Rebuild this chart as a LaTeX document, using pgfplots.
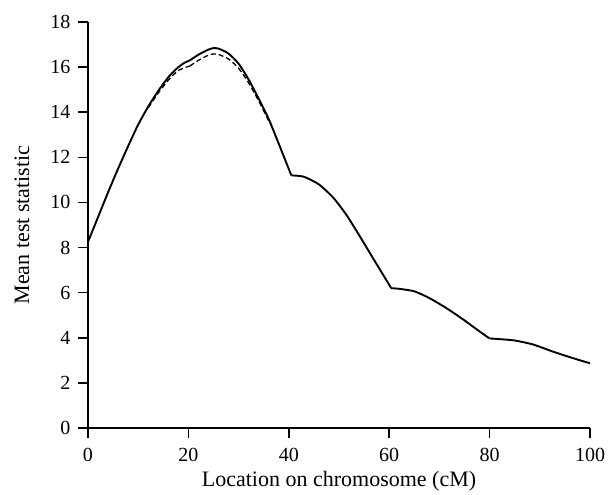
\documentclass[border=0pt]{standalone}
\usepackage{fontspec}
\setmainfont{Liberation Serif}
\usepackage{pgfplots}
\pgfplotsset{compat=1.18}

\begin{document}
\begin{tikzpicture}
\begin{axis}[
    scale only axis,
    width=502pt,
    height=406pt,
    xmin=0, xmax=100,
    ymin=0, ymax=18,
    axis x line*=bottom,
    axis y line*=left,
    axis line style={black, line width=1.4pt, -},
    xtick={0,20,...,100},
    ytick={0,2,...,18},
    tick align=outside,
    major tick length=10pt,
    every tick/.append style={black, line width=1.5pt},
    /pgf/number format/assume math mode=true,
    tick label style={font=\fontsize{20}{22}\selectfont},
    xticklabel style={yshift=-7pt},
    yticklabel style={xshift=-4pt},
    xlabel={Location on chromosome (cM)},
    ylabel={Mean test statistic},
    label style={font=\fontsize{22}{24}\selectfont},
    xlabel style={anchor=center, at={(axis description cs:0.5,-0.13)}},
    ylabel style={anchor=center, at={(axis description cs:-0.1315,0.5)}},
    clip=false,
]
% solid curve, drawn piecewise between the kinks
\addplot[black, line width=1.9pt, smooth, tension=0.4] coordinates {
    (0,8.25) (2,9.35) (4,10.45) (6,11.5) (8,12.5) (10,13.45) (12,14.25)
    (14,14.95) (16,15.55) (18,16.0) (19.3,16.2) (20.3,16.3)
};
\addplot[black, line width=1.9pt, smooth, tension=0.4] coordinates {
    (20.3,16.3) (22,16.55) (24,16.78) (25,16.84) (26,16.82) (28,16.6)
    (30,16.15) (32,15.45) (34,14.6) (36,13.7) (38,12.6) (40.5,11.2)
};
\addplot[black, line width=1.9pt, smooth, tension=0.4] coordinates {
    (40.5,11.2) (43,11.14) (46,10.8) (48.9,10.2) (51.5,9.44) (54.2,8.48)
    (56.8,7.52) (60.4,6.2)
};
\addplot[black, line width=1.9pt, smooth, tension=0.4] coordinates {
    (60.4,6.2) (62,6.17) (65,6.06) (68,5.76) (71.5,5.3) (75,4.77)
    (78,4.28) (80,3.97)
};
\addplot[black, line width=1.9pt, smooth, tension=0.4] coordinates {
    (80,3.97) (82,3.94) (85,3.88) (88.7,3.7) (92.7,3.38) (96.7,3.09)
    (100,2.87)
};
% dashed curve, where it separates from the solid one
\addplot[black, line width=1.3pt, dash pattern=on 5pt off 3pt, smooth, tension=0.4] coordinates {
    (12,14.2) (14,14.85) (16,15.42) (18,15.85) (20.3,16.05)
};
\addplot[black, line width=1.3pt, dash pattern=on 5pt off 3pt, smooth, tension=0.4] coordinates {
    (20.3,16.05) (22,16.3) (24,16.53) (25,16.58) (26,16.56) (28,16.36)
    (30,15.95) (32,15.3) (34,14.5) (36,13.62)
};
\end{axis}
\useasboundingbox (-88pt,-67pt) rectangle (523pt,428pt);
\end{tikzpicture}
\end{document}
